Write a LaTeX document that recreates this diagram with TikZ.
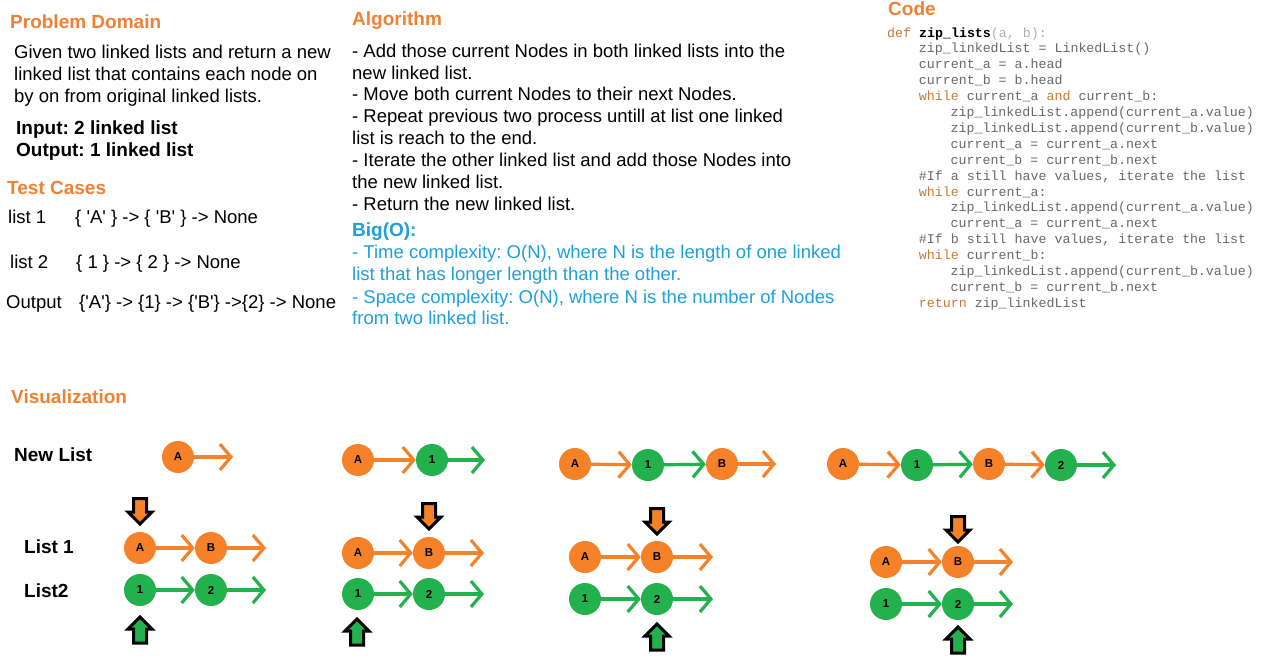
\documentclass[tikz,border=0pt]{standalone}
\usepackage{fontspec}
\setmainfont{Liberation Sans}
\setmonofont{Liberation Mono}
\usetikzlibrary{arrows.meta}
\definecolor{hor}{RGB}{242,128,50}
\definecolor{nor}{RGB}{245,130,40}
\definecolor{ngr}{RGB}{34,177,76}
\definecolor{bl}{RGB}{30,160,220}
\definecolor{codegray}{RGB}{105,105,105}
\definecolor{kw}{RGB}{200,122,55}
\definecolor{lgray}{RGB}{175,175,175}
\newcommand{\q}{\textquotesingle}
\frenchspacing
\tikzset{
  txt/.style={anchor=base west, inner sep=0pt, font=\fontsize{18.5}{22}\selectfont},
  btxt/.style={anchor=base west, inner sep=0pt, font=\bfseries\fontsize{19}{22}\selectfont},
  head/.style={btxt, text=hor},
  bltxt/.style={txt, text=bl},
  code/.style={anchor=base west, inner sep=0pt, text=codegray, font=\ttfamily\fontsize{13.3}{16}\selectfont},
  lnode/.style={circle, minimum size=32pt, inner sep=0pt, font=\bfseries\fontsize{11.5}{11.5}\selectfont},
  onode/.style={lnode, fill=nor},
  gnode/.style={lnode, fill=ngr},
  link/.style={line width=3.2pt, -{Straight Barb[length=11pt,width=26pt]}},
  olink/.style={link, draw=nor},
  glink/.style={link, draw=ngr},
  blockar/.style={line width=3pt, draw=black, line join=miter},
  pics/downptr/.style={code={\draw[blockar, fill=#1] (-6.5,1.5) -- (6.5,1.5) -- (6.5,15) -- (12,15) -- (0,27) -- (-12,15) -- (-6.5,15) -- cycle;}},
  pics/upptr/.style={code={\draw[blockar, fill=#1] (0,2) -- (12,14) -- (6.5,14) -- (6.5,28) -- (-6.5,28) -- (-6.5,14) -- (-12,14) -- cycle;}},
}
\begin{document}
\begin{tikzpicture}[x=1pt,y=-1pt]
\fill[white] (0,0) rectangle (1277,667);
\useasboundingbox (0,0) rectangle (1277,667);

% Problem domain
\node[head] (pdh) at (10,28) {Problem Domain};
\node[txt] (pd1) at (14,58) {Given two linked lists and return a new};
\node[txt] (pd2) at (14,80) {linked list that contains each node on};
\node[txt] (pd3) at (14,102) {by on from original linked lists.};
\node[btxt] (inp) at (16,134) {Input: 2 linked list};
\node[btxt] (outp) at (16,156) {Output: 1 linked list};

% Test cases
\node[head] (tch) at (7,194) {Test Cases};
\node[txt] (tl1) at (8,223) {list 1};
\node[txt] (tv1) at (75,223) {\{ \q A\q\ \} -> \{ \q B\q\ \} -> None};
\node[txt] (tl2) at (10,268) {list 2};
\node[txt] (tv2) at (76,268) {\{ 1 \} -> \{ 2 \} -> None};
\node[txt] (tl3) at (6,308) {Output};
\node[txt] (tv3) at (79,308) {\{\q A\q\} -> \{1\} -> \{\q B\q\} ->\{2\} -> None};

% Algorithm
\node[head] (alh) at (352,25) {Algorithm};
\node[txt] (al1) at (352,57) {- Add those current Nodes in both linked lists into the};
\node[txt] (al2) at (352,79) {new linked list.};
\node[txt] (al3) at (352,100) {- Move both current Nodes to their next Nodes.};
\node[txt] (al4) at (352,122) {- Repeat previous two process untill at list one linked};
\node[txt] (al5) at (352,144) {list is reach to the end.};
\node[txt] (al6) at (352,166) {- Iterate the other linked list and add those Nodes into};
\node[txt] (al7) at (352,188) {the new linked list.};
\node[txt] (al8) at (352,210) {- Return the new linked list.};
\node[btxt, text=bl] (boh) at (352,236) {Big(O):};
\node[bltxt] (bo1) at (352,258) {- Time complexity: O(N), where N is the length of one linked};
\node[bltxt] (bo2) at (352,280) {list that has longer length than the other.};
\node[bltxt] (bo3) at (352,303) {- Space complexity: O(N), where N is the number of Nodes};
\node[bltxt] (bo4) at (352,324) {from two linked list.};

% Code
\node[head] (cdh) at (888,15) {Code};
\node[code] (c1) at (887,37) {{\color{kw}def} {\bfseries\color{black}zip\_lists}{\color{lgray}(a, b):}};
\node[code] (c2) at (918.7,52.9) {zip\_linkedList = LinkedList()};
\node[code] (c3) at (918.7,68.8) {current\_a = a.head};
\node[code] (c4) at (918.7,84.7) {current\_b = b.head};
\node[code] (c5) at (918.7,100.6) {{\color{kw}while} current\_a {\color{kw}and} current\_b:};
\node[code] (c6) at (950.4,116.5) {zip\_linkedList.append(current\_a.value)};
\node[code] (c7) at (950.4,132.4) {zip\_linkedList.append(current\_b.value)};
\node[code] (c8) at (950.4,148.3) {current\_a = current\_a.next};
\node[code] (c9) at (950.4,164.2) {current\_b = current\_b.next};
\node[code] (c10) at (918.7,180.1) {\#If a still have values, iterate the list};
\node[code] (c11) at (918.7,196) {{\color{kw}while} current\_a:};
\node[code] (c12) at (950.4,211.9) {zip\_linkedList.append(current\_a.value)};
\node[code] (c13) at (950.4,227.8) {current\_a = current\_a.next};
\node[code] (c14) at (918.7,243.7) {\#If b still have values, iterate the list};
\node[code] (c15) at (918.7,259.6) {{\color{kw}while} current\_b:};
\node[code] (c16) at (950.4,275.5) {zip\_linkedList.append(current\_b.value)};
\node[code] (c17) at (950.4,291.4) {current\_b = current\_b.next};
\node[code] (c18) at (918.7,307.3) {{\color{kw}return} zip\_linkedList};

% Visualization
\node[head] (vh) at (11,403) {Visualization};
\node[btxt] (nl) at (14,461) {New List};
\node[btxt] (l1) at (24,553) {List 1};
\node[btxt] (l2) at (24,597) {List2};

% Panel 1
\node[onode] (p1nA) at (178,457) {A};
\coordinate (p1nE) at (233,457);
\draw[olink] (p1nA) -- (p1nE);
\node[onode] (p1aA) at (140,548) {A};
\node[onode] (p1aB) at (211,548) {B};
\coordinate (p1aE) at (266,548);
\draw[olink] (p1aA) -- (p1aB);
\draw[olink] (p1aB) -- (p1aE);
\node[gnode] (p1b1) at (140,590) {1};
\node[gnode] (p1b2) at (211,590) {2};
\coordinate (p1bE) at (266,590);
\draw[glink] (p1b1) -- (p1b2);
\draw[glink] (p1b2) -- (p1bE);
\pic at (140,497) {downptr=nor};
\pic at (140,615) {upptr=ngr};

% Panel 2
\node[onode] (p2nA) at (358,460) {A};
\node[gnode] (p2n1) at (432,460) {1};
\coordinate (p2nE) at (485,460);
\draw[olink] (p2nA) -- (p2n1);
\draw[glink] (p2n1) -- (p2nE);
\node[onode] (p2aA) at (358,553) {A};
\node[onode] (p2aB) at (429,553) {B};
\coordinate (p2aE) at (484,553);
\draw[olink] (p2aA) -- (p2aB);
\draw[olink] (p2aB) -- (p2aE);
\node[gnode] (p2b1) at (358,594) {1};
\node[gnode] (p2b2) at (429,594) {2};
\coordinate (p2bE) at (484,594);
\draw[glink] (p2b1) -- (p2b2);
\draw[glink] (p2b2) -- (p2bE);
\pic at (429,502) {downptr=nor};
\pic at (357,617) {upptr=ngr};

% Panel 3
\node[onode] (p3nA) at (575,464) {A};
\node[gnode] (p3n1) at (648,465) {1};
\node[onode] (p3nB) at (722,464) {B};
\coordinate (p3nE) at (776,464);
\draw[olink] (p3nA) -- (p3n1);
\draw[glink] (p3n1) -- (p3nB);
\draw[olink] (p3nB) -- (p3nE);
\node[onode] (p3aA) at (585,557) {A};
\node[onode] (p3aB) at (657,557) {B};
\coordinate (p3aE) at (713,557);
\draw[olink] (p3aA) -- (p3aB);
\draw[olink] (p3aB) -- (p3aE);
\node[gnode] (p3b1) at (585,599) {1};
\node[gnode] (p3b2) at (657,599) {2};
\coordinate (p3bE) at (713,599);
\draw[glink] (p3b1) -- (p3b2);
\draw[glink] (p3b2) -- (p3bE);
\pic at (657,507) {downptr=nor};
\pic at (657,622) {upptr=ngr};

% Panel 4
\node[onode] (p4nA) at (843,464) {A};
\node[gnode] (p4n1) at (917,465) {1};
\node[onode] (p4nB) at (989,464) {B};
\node[gnode] (p4n2) at (1061,465) {2};
\coordinate (p4nE) at (1116,465);
\draw[olink] (p4nA) -- (p4n1);
\draw[glink] (p4n1) -- (p4nB);
\draw[olink] (p4nB) -- (p4n2);
\draw[glink] (p4n2) -- (p4nE);
\node[onode] (p4aA) at (886,562) {A};
\node[onode] (p4aB) at (958,562) {B};
\coordinate (p4aE) at (1013,562);
\draw[olink] (p4aA) -- (p4aB);
\draw[olink] (p4aB) -- (p4aE);
\node[gnode] (p4b1) at (886,604) {1};
\node[gnode] (p4b2) at (958,604) {2};
\coordinate (p4bE) at (1013,604);
\draw[glink] (p4b1) -- (p4b2);
\draw[glink] (p4b2) -- (p4bE);
\pic at (958,515) {downptr=nor};
\pic at (958,625) {upptr=ngr};
\end{tikzpicture}
\end{document}
